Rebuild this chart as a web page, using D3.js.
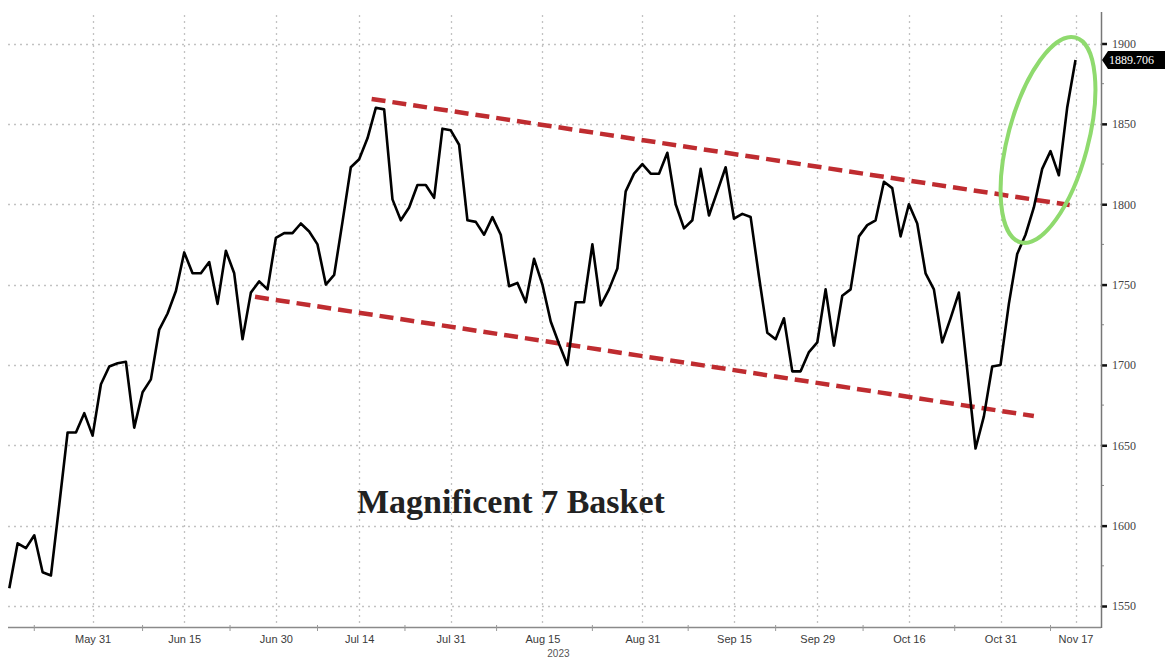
<!DOCTYPE html>
<html>
<head>
<meta charset="utf-8">
<script src="https://cdn.jsdelivr.net/npm/d3@7"></script>
<style>
html,body{margin:0;padding:0;background:#fff;}
svg{display:block;}
</style>
</head>
<body>
<svg id="chart" width="1165" height="659"></svg>
<script>
// ---- data (one value per weekday, starting mid-May 2023) ----
const basketValues = [
  1561, 1589, 1586, 1594, 1571, 1569, 1613, 1658, 1658, 1670,
  1656, 1688, 1699, 1701, 1702, 1661, 1683, 1691, 1722, 1732,
  1746, 1770, 1757, 1757, 1764, 1738, 1771, 1757, 1716, 1745,
  1752, 1747, 1779, 1782, 1782, 1788, 1783, 1775, 1750, 1756,
  1789, 1823, 1828, 1841, 1860, 1859, 1803, 1790, 1798, 1812,
  1812, 1804, 1847, 1846, 1837, 1790, 1789, 1781, 1792, 1781,
  1749, 1751, 1739, 1766, 1750, 1727, 1713, 1700, 1739, 1739,
  1775, 1737, 1747, 1760, 1808, 1819, 1825, 1819, 1819, 1832,
  1800, 1785, 1790, 1822, 1793, 1808, 1823, 1791, 1794, 1792,
  1755, 1720, 1716, 1729, 1696, 1696, 1708, 1714, 1747, 1712,
  1743, 1747, 1780, 1787, 1790, 1814, 1810, 1780, 1800, 1788,
  1757, 1747, 1714, 1729, 1745, 1697, 1648, 1668, 1699, 1700,
  1738, 1769, 1781, 1798, 1822, 1833, 1818, 1860, 1889.706
];
const lastValue = 1889.706;
const tickIndex = [10, 21, 32, 42, 53, 64, 76, 87, 97, 108, 119, 128];
const tickLabels = ["May 31", "Jun 15", "Jun 30", "Jul 14", "Jul 31", "Aug 15",
                    "Aug 31", "Sep 15", "Sep 29", "Oct 16", "Oct 31", "Nov 17"];
const minorTickIndex = [3, 16, 26.5, 37, 47.5, 58.5, 70, 81.5, 92, 102.5, 113.5, 125];
const yTicks = [1550, 1600, 1650, 1700, 1750, 1800, 1850, 1900];
const yMinorTicks = [1575, 1625, 1675, 1725, 1775, 1825, 1875];
const upperChannel = [{i: 43.5, v: 1865.5}, {i: 127.3, v: 1799.5}];
const lowerChannel = [{i: 29.5, v: 1742.4}, {i: 123, v: 1668.2}];
const highlight = {i: 124.7, v: 1840};
const title = "Magnificent 7 Basket";
const yearLabel = "2023";

// ---- layout ----
const svg = d3.select("#chart");
const plotLeft = 8, plotRight = 1101, plotTop = 12, plotBottom = 627;

const x = d3.scaleLinear().domain([0, 128]).range([9.3, 1075.5]);
const y = d3.scaleLinear().domain([1550, 1900]).range([606, 43.5]);

// gridlines
const grid = svg.append("g").attr("stroke", "#c2c2c2").attr("stroke-width", 1.3)
  .attr("stroke-dasharray", "2,4");
grid.selectAll("line.h").data(yTicks).join("line")
  .attr("x1", plotLeft).attr("x2", plotRight)
  .attr("y1", d => Math.round(y(d)) + 0.5).attr("y2", d => Math.round(y(d)) + 0.5);
grid.selectAll("line.v").data(tickIndex).join("line")
  .attr("y1", 15).attr("y2", plotBottom)
  .attr("x1", d => Math.round(x(d)) + 0.5).attr("x2", d => Math.round(x(d)) + 0.5);

// bottom axis
const xAxis = d3.axisBottom(x).tickValues(tickIndex)
  .tickFormat((d, k) => tickLabels[k]).tickSize(0).tickPadding(8);
const gx = svg.append("g").attr("transform", `translate(0,${plotBottom})`).call(xAxis);
gx.select(".domain").remove();
gx.selectAll("text").attr("font-family", "Liberation Sans, Arial, sans-serif")
  .attr("font-size", 11).attr("fill", "#3a3a3a");
svg.append("line").attr("x1", plotLeft).attr("x2", plotRight)
  .attr("y1", plotBottom + 0.5).attr("y2", plotBottom + 0.5)
  .attr("stroke", "#8a8a8a").attr("stroke-width", 1.5);
svg.append("g").selectAll("line").data(minorTickIndex).join("line")
  .attr("x1", d => x(d)).attr("x2", d => x(d))
  .attr("y1", plotBottom - 2).attr("y2", plotBottom + 4)
  .attr("stroke", "#999").attr("stroke-width", 1);
svg.append("text").attr("x", x(64) + 16).attr("y", 657)
  .attr("text-anchor", "middle").attr("font-family", "Liberation Sans, Arial, sans-serif")
  .attr("font-size", 10).attr("fill", "#555").text(yearLabel);

// right axis
const yAxis = d3.axisRight(y).tickValues(yTicks).tickSize(6).tickPadding(5)
  .tickFormat(d3.format("d"));
const gy = svg.append("g").attr("transform", `translate(${plotRight},0)`).call(yAxis);
gy.select(".domain").remove();
gy.selectAll(".tick line").attr("stroke", "#111").attr("stroke-width", 2.5);
gy.selectAll("text").attr("font-family", "Liberation Serif, Times New Roman, serif")
  .attr("font-size", 12).attr("fill", "#444");
svg.append("g").selectAll("line").data(yMinorTicks).join("line")
  .attr("x1", plotRight).attr("x2", plotRight + 3)
  .attr("y1", d => y(d)).attr("y2", d => y(d))
  .attr("stroke", "#888").attr("stroke-width", 1);
svg.append("line").attr("x1", plotRight + 0.5).attr("x2", plotRight + 0.5)
  .attr("y1", plotTop).attr("y2", plotBottom + 1)
  .attr("stroke", "#777").attr("stroke-width", 1.5);

// channel lines
const chan = d3.line().x(d => x(d.i)).y(d => y(d.v));
[upperChannel, lowerChannel].forEach(c => {
  svg.append("path").attr("d", chan(c)).attr("fill", "none")
    .attr("stroke", "#bf2c30").attr("stroke-width", 4.5)
    .attr("stroke-dasharray", "14,7");
});

// main line
const line = d3.line().x((d, k) => x(k)).y(d => y(d));
svg.append("path").datum(basketValues).attr("d", line).attr("fill", "none")
  .attr("stroke", "#000").attr("stroke-width", 2.6).attr("stroke-linejoin", "round");

// highlight ellipse
svg.append("ellipse")
  .attr("transform", `translate(${x(highlight.i)},${y(highlight.v)}) rotate(15)`)
  .attr("rx", 40).attr("ry", 106)
  .attr("fill", "none").attr("stroke", "#8fda6e").attr("stroke-width", 4);

// last value label
const ly = y(lastValue);
svg.append("path")
  .attr("d", `M${plotRight + 1},${ly} L${plotRight + 7},${ly - 9} L1170,${ly - 9} L1170,${ly + 9} L${plotRight + 7},${ly + 9} Z`)
  .attr("fill", "#000");
svg.append("text").attr("x", plotRight + 8).attr("y", ly + 4)
  .attr("font-family", "Liberation Serif, Times New Roman, serif")
  .attr("font-size", 12).attr("fill", "#fff").text(d3.format(".3f")(lastValue));

// title
svg.append("text").attr("x", 357).attr("y", 513)
  .attr("font-family", "Liberation Serif, Times New Roman, serif")
  .attr("font-weight", "bold").attr("font-size", 34).attr("fill", "#222")
  .text(title);
</script>
</body>
</html>
